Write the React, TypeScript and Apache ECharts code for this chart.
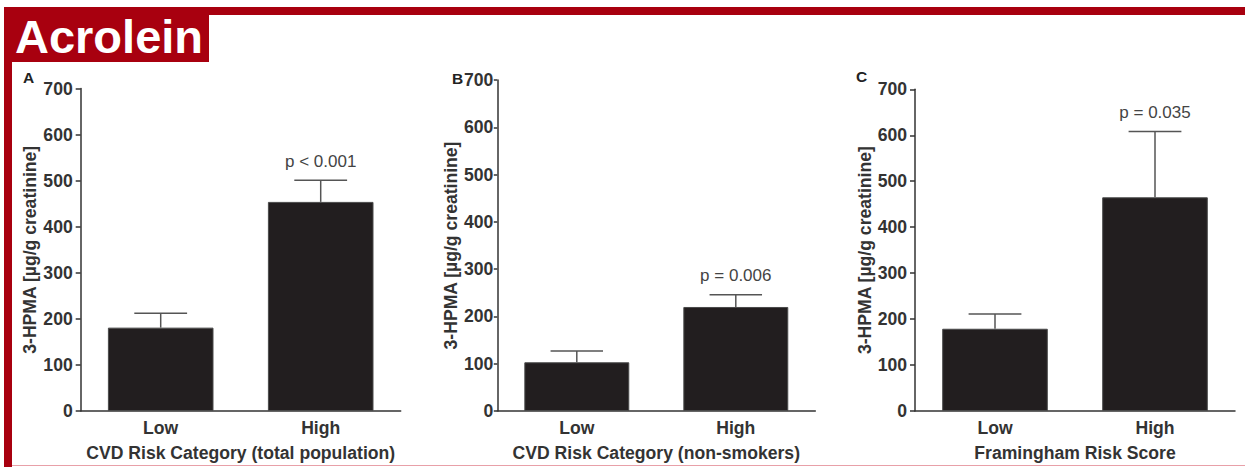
import React, { useEffect, useRef } from "react";
import * as echarts from "echarts";

const categories = ["Low", "High"];
const panelLetters = ["A", "B", "C"];
const xAxisNames = [
  "CVD Risk Category (total population)",
  "CVD Risk Category (non-smokers)",
  "Framingham Risk Score",
];
const yAxisName = "3-HPMA [µg/g creatinine]";
const meansA = [181, 454];
const errTopA = [212, 501];
const meansB = [103, 220];
const errTopB = [127, 246];
const meansC = [179, 465];
const errTopC = [211, 608];
const pLabels = ["p < 0.001", "p = 0.006", "p = 0.035"];
const yTicks = [0, 100, 200, 300, 400, 500, 600, 700];

const FONT = '"Liberation Sans", Arial, Helvetica, sans-serif';
const RED = "#a8000f";
const FS = 17.6;

export default function App() {
  const ref = useRef<HTMLDivElement>(null);
  useEffect(() => {
    if (!ref.current) return;
    const chart = echarts.init(ref.current, null, { renderer: "svg" });
    const means = [meansA, meansB, meansC];
    const errs = [errTopA, errTopB, errTopC];
    const grids = [
      { left: 80.7, top: 88.6, width: 320, height: 324.7 },
      { left: 497.3, top: 80, width: 318, height: 332.7 },
      { left: 915, top: 89.3, width: 320, height: 325.7 },
    ];
    const yNameGaps = [42, 37, 41];
    const yLabelMargins = [8, 4, 8];
    const axisLine = { lineStyle: { color: "#333", width: 1.5 } };
    const axisTick = { length: 5, lineStyle: { color: "#333", width: 1.5 } };
    const xAxis = grids.map((_, i) => ({
      type: "category",
      gridIndex: i,
      data: categories,
      name: xAxisNames[i],
      nameLocation: "middle",
      nameGap: 33,
      nameTextStyle: { fontFamily: FONT, fontWeight: "bold", fontSize: FS, color: "#333" },
      axisLine,
      axisTick: { ...axisTick, alignWithLabel: true },
      axisLabel: { fontFamily: FONT, fontWeight: "bold", fontSize: FS, color: "#333", margin: 8 },
    }));
    const yAxis = grids.map((_, i) => ({
      type: "value",
      gridIndex: i,
      min: yTicks[0],
      max: yTicks[yTicks.length - 1],
      interval: yTicks[1] - yTicks[0],
      name: yAxisName,
      nameLocation: "middle",
      nameGap: yNameGaps[i],
      nameTextStyle: { fontFamily: FONT, fontWeight: "bold", fontSize: FS, color: "#333" },
      axisLine: { show: true, ...axisLine },
      axisTick: { show: true, ...axisTick, length: i === 1 ? 3.5 : 5 },
      splitLine: { show: false },
      axisLabel: { fontFamily: FONT, fontWeight: "bold", fontSize: FS, color: "#333", margin: yLabelMargins[i] },
    }));
    const series: any[] = [];
    grids.forEach((_, i) => {
      series.push({
        type: "bar",
        xAxisIndex: i,
        yAxisIndex: i,
        data: means[i],
        barWidth: "66%",
        itemStyle: { color: "#221e1f", borderColor: "#4a4a4a", borderWidth: 1 },
        z: 2,
      });
      series.push({
        type: "custom",
        xAxisIndex: i,
        yAxisIndex: i,
        data: means[i].map((m, j) => [j, m, errs[i][j]]),
        encode: { x: 0, y: 1 },
        z: 3,
        renderItem: (params: any, api: any) => {
          const x = api.value(0);
          const v = api.value(1);
          const e = api.value(2);
          const base = api.coord([x, v]);
          const top = api.coord([x, e]);
          const w = api.size([1, 0])[0] * 0.33;
          const stroke = { stroke: "#555", lineWidth: 1.5 };
          const children: any[] = [
            { type: "line", shape: { x1: base[0], y1: base[1], x2: top[0], y2: top[1] }, style: stroke },
            { type: "line", shape: { x1: top[0] - w / 2, y1: top[1], x2: top[0] + w / 2, y2: top[1] }, style: stroke },
          ];
          if (params.dataIndex === 1) {
            children.push({
              type: "text",
              style: {
                text: pLabels[i],
                x: top[0],
                y: top[1] - 19,
                align: "center",
                verticalAlign: "middle",
                fontFamily: FONT,
                fontSize: 17,
                fill: "#444",
              },
            });
          }
          return { type: "group", children };
        },
      });
    });
    const letterPos = [
      [28.5, 77],
      [457.5, 78],
      [861.7, 76.7],
    ];
    chart.setOption({
      animation: false,
      backgroundColor: "#fff",
      grid: grids,
      xAxis,
      yAxis,
      series,
      graphic: [
        { type: "rect", shape: { x: 4, y: 7, width: 1241, height: 8 }, style: { fill: RED }, z: 10 },
        { type: "rect", shape: { x: 4, y: 7, width: 8, height: 460 }, style: { fill: RED }, z: 10 },
        { type: "rect", shape: { x: 4, y: 7, width: 205, height: 55 }, style: { fill: RED }, z: 10 },
        { type: "line", shape: { x1: 12, y1: 465.5, x2: 1245, y2: 465.5 }, style: { stroke: "#e8a0a8", lineWidth: 1 }, z: 10 },
        {
          type: "text",
          x: 15,
          y: 36,
          z: 11,
          style: { text: "Acrolein", fill: "#fff", fontFamily: FONT, fontWeight: "bold", fontSize: 47, verticalAlign: "middle", align: "left" },
        },
        ...panelLetters.map((t, i) => ({
          type: "text",
          x: letterPos[i][0],
          y: letterPos[i][1],
          z: 11,
          style: { text: t, fill: "#222", fontFamily: FONT, fontWeight: "bold", fontSize: 15.5, align: "center", verticalAlign: "middle" },
        })),
      ],
    });
    return () => chart.dispose();
  }, []);
  return (
    <div
      ref={ref}
      style={{ position: "absolute", left: 0, top: 0, width: 1245, height: 467 }}
    />
  );
}
